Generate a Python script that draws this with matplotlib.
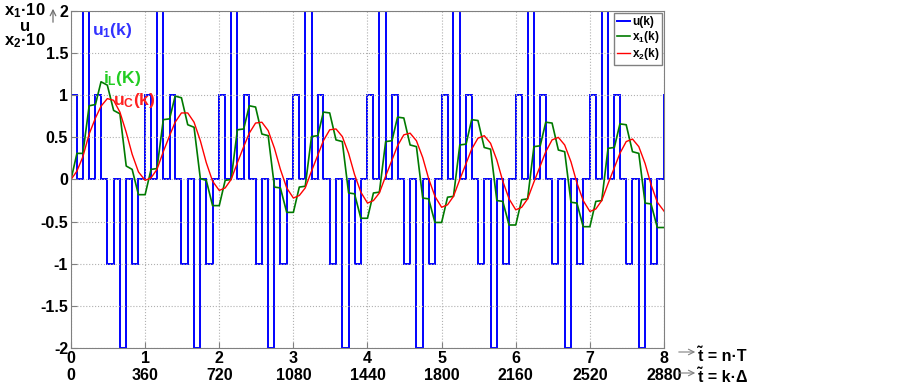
import matplotlib.pyplot as plt
import numpy as np

# step edges of u(k) inside one period (fraction of T) and its levels
u_edges = [0, 0.08, 0.16, 0.245, 0.33, 0.405, 0.49, 0.575, 0.66, 0.745, 0.825, 0.91, 1.0]
u_levels = [1, 0, 2, 0, 1, 0, -1, 0, -2, 0, -1, 0]
n_periods = 8

# x1(k) = i_L*10 read at the step edges, one row per period
x1_vals = [
    [0.00, 0.31, 0.31, 0.875, 0.89, 1.16, 1.12, 0.82, 0.78, 0.16, 0.12, -0.18],
    [-0.18, 0.12, 0.13, 0.71, 0.72, 0.99, 0.97, 0.65, 0.62, 0.01, -0.01, -0.31],
    [-0.31, -0.01, 0.00, 0.59, 0.60, 0.875, 0.86, 0.54, 0.52, -0.09, -0.10, -0.39],
    [-0.39, -0.09, -0.08, 0.51, 0.52, 0.80, 0.79, 0.47, 0.45, -0.16, -0.17, -0.46],
    [-0.46, -0.16, -0.15, 0.45, 0.46, 0.74, 0.73, 0.41, 0.39, -0.22, -0.23, -0.51],
    [-0.51, -0.21, -0.20, 0.41, 0.42, 0.71, 0.70, 0.38, 0.36, -0.25, -0.26, -0.54],
    [-0.54, -0.24, -0.23, 0.39, 0.40, 0.68, 0.67, 0.35, 0.33, -0.27, -0.28, -0.56],
    [-0.56, -0.26, -0.25, 0.37, 0.38, 0.66, 0.65, 0.33, 0.31, -0.28, -0.29, -0.57],
]
x1_end = -0.57

# x2(k) = u_C*10 read at the same edges
x2_vals = [
    [0.00, 0.10, 0.27, 0.54, 0.73, 0.87, 0.96, 0.94, 0.80, 0.56, 0.30, 0.09],
    [-0.01, 0.02, 0.12, 0.33, 0.52, 0.68, 0.79, 0.79, 0.68, 0.46, 0.20, -0.02],
    [-0.13, -0.10, 0.00, 0.20, 0.39, 0.55, 0.67, 0.68, 0.58, 0.37, 0.12, -0.10],
    [-0.22, -0.19, -0.10, 0.10, 0.29, 0.46, 0.59, 0.60, 0.51, 0.31, 0.06, -0.15],
    [-0.28, -0.25, -0.16, 0.04, 0.23, 0.40, 0.53, 0.55, 0.46, 0.26, 0.01, -0.20],
    [-0.33, -0.30, -0.20, 0.00, 0.19, 0.36, 0.49, 0.52, 0.43, 0.23, -0.02, -0.23],
    [-0.36, -0.33, -0.23, -0.03, 0.16, 0.33, 0.47, 0.50, 0.41, 0.21, -0.04, -0.25],
    [-0.38, -0.35, -0.25, -0.05, 0.14, 0.31, 0.45, 0.48, 0.39, 0.19, -0.06, -0.27],
]
x2_end = -0.375

n_ticks = [0, 1, 2, 3, 4, 5, 6, 7, 8]
k_ticks = [0, 360, 720, 1080, 1440, 1800, 2160, 2520, 2880]
y_ticks = [-2, -1.5, -1, -0.5, 0, 0.5, 1, 1.5, 2]

plt.rcParams['font.family'] = ['Liberation Sans', 'DejaVu Sans']
plt.rcParams['mathtext.fontset'] = 'custom'
plt.rcParams['mathtext.rm'] = 'Liberation Sans:bold'
plt.rcParams['mathtext.it'] = 'Liberation Sans:bold'
plt.rcParams['mathtext.bf'] = 'Liberation Sans:bold'

fig = plt.figure(figsize=(9.03, 3.9), dpi=100)
ax = fig.add_axes([71 / 903, 42 / 390, 593 / 903, 337 / 390])

# build time axis from the per-period edges
t = []
for p in range(n_periods):
    t += [p + e for e in u_edges[:-1]]
t = np.array(t + [n_periods])

u_stairs = np.array(u_levels * n_periods)
ax.stairs(u_stairs, t, color='#0000ff', lw=1.4, baseline=None, label='u(k)')
ax.plot([8, 8], [0, 1], color='#0000ff', lw=1.4)

x1 = np.array(sum(x1_vals, []) + [x1_end])
x2 = np.array(sum(x2_vals, []) + [x2_end])
ax.plot(t, x1, color='#007a00', lw=1.2, label='x$_1$(k)')
ax.plot(t, x2, color='#ff0000', lw=1.0, label='x$_2$(k)')

ax.set_xlim(0, 8)
ax.set_ylim(-2, 2)
ax.set_yticks(y_ticks)
ax.set_yticklabels([f'{v:g}' for v in y_ticks], fontsize=11.5, fontweight='bold')
ax.set_xticks(n_ticks)
ax.set_xticklabels([f'{a}\n{b}' for a, b in zip(n_ticks, k_ticks)],
                   fontsize=11.5, fontweight='bold', linespacing=1.2)
ax.tick_params(direction='in', length=4, color='#808080', pad=2)
ax.grid(True, color='#b0b0b0', ls=':', lw=0.8)
for s in ax.spines.values():
    s.set_color('#808080')

leg = ax.legend(loc='upper right', handlelength=1.1, handletextpad=0.2,
                borderpad=0.25, labelspacing=0.1, fancybox=False, framealpha=1,
                edgecolor='#808080', borderaxespad=0.15,
                prop={'weight': 'bold', 'size': 8.5})

# labels inside the plot
ax.text(0.28, 1.72, 'u$_1$(k)', color='#3333ff', fontsize=12.5, fontweight='bold')
ax.text(0.43, 1.15, 'i$_L$(K)', color='#22cc22', fontsize=12.5, fontweight='bold')
ax.text(0.57, 0.88, 'u$_C$(k)', color='#ff2020', fontsize=12.5, fontweight='bold')

# y label: one centred three-line block
fig.text(25 / 903, 1 - 26 / 390, 'x$_1$·10\nu\nx$_2$·10', fontsize=12, fontweight='bold',
         ha='center', va='center', multialignment='center', linespacing=0.85)
ax.annotate('', xy=(53 / 903, 1 - 6 / 390), xytext=(53 / 903, 1 - 25 / 390),
            xycoords='figure fraction', annotation_clip=False,
            arrowprops=dict(arrowstyle='->', color='#707070', lw=0.9))

# axis captions on the right
for yy, txt in [(356, 't̃ = n·T'), (377, 't̃ = k·Δ')]:
    fig.text(699 / 903, 1 - yy / 390, txt, fontsize=11.5, fontweight='bold', va='center')
    ax.annotate('', xy=(698 / 903, 1 - (yy - 4) / 390), xytext=(676 / 903, 1 - (yy - 4) / 390),
                xycoords='figure fraction', annotation_clip=False,
                arrowprops=dict(arrowstyle='->', color='#808080', lw=0.8))

fig.savefig('out.png', dpi=100)
